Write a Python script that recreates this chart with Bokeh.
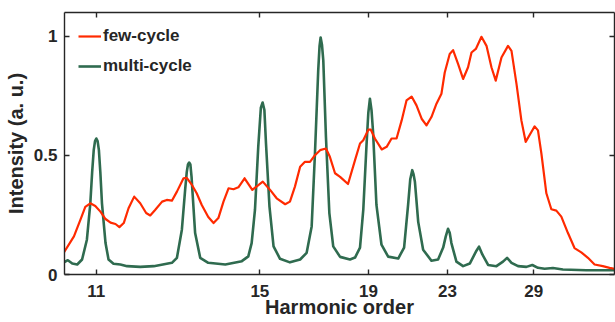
import numpy as np
from bokeh.plotting import figure
from bokeh.models import (Range1d, LinearAxis, FixedTicker, CustomJSTickFormatter,
                          Legend, LegendItem, ColumnDataSource)
from bokeh.embed import file_html
from bokeh.resources import INLINE

# ---- data (harmonic order, normalised intensity) ----
few_q = [10.40, 10.58, 10.70, 10.79, 10.885, 10.98, 11.08, 11.18, 11.28, 11.38,
         11.46, 11.55, 11.65, 11.77, 11.90, 12.03, 12.12, 12.23, 12.39, 12.50,
         12.62, 12.74, 12.90, 12.98, 13.11, 13.23, 13.36, 13.53, 13.67, 13.80,
         13.94, 14.08, 14.22, 14.36, 14.54, 14.77, 15.09, 15.32, 15.53, 15.81,
         15.97, 16.14, 16.32, 16.49, 16.67, 16.85, 17.04, 17.26, 17.41, 17.61,
         17.81, 18.13, 18.42, 18.63, 18.77, 18.99, 19.10, 19.28, 19.59, 19.82,
         20.05, 20.29, 20.54, 20.78, 21.04, 21.29, 21.56, 21.82, 22.09, 22.37,
         22.65, 22.84, 23.13, 23.33, 23.63, 23.94, 24.25, 24.47, 24.75, 25.12,
         25.46, 25.80, 26.10, 26.51, 26.99, 27.25, 27.63, 28.01, 28.35, 28.81,
         29.08, 29.36, 29.65, 30.08, 30.52, 30.97, 31.43, 32.06, 32.70, 33.38,
         34.07, 34.78, 35.69, 36.47, 37.05]
few_i = [0.093, 0.160, 0.230, 0.284, 0.299, 0.288, 0.264, 0.233, 0.218, 0.212,
         0.199, 0.216, 0.278, 0.327, 0.299, 0.258, 0.248, 0.271, 0.306, 0.313,
         0.310, 0.348, 0.404, 0.406, 0.376, 0.341, 0.292, 0.241, 0.216, 0.237,
         0.306, 0.362, 0.358, 0.366, 0.404, 0.355, 0.390, 0.355, 0.320, 0.295,
         0.306, 0.369, 0.452, 0.473, 0.473, 0.501, 0.522, 0.529, 0.494, 0.425,
         0.410, 0.380, 0.480, 0.550, 0.564, 0.608, 0.608, 0.571, 0.525, 0.536,
         0.571, 0.571, 0.647, 0.731, 0.747, 0.710, 0.654, 0.626, 0.661, 0.717,
         0.759, 0.848, 0.926, 0.942, 0.884, 0.821, 0.870, 0.932, 0.947, 0.998,
         0.960, 0.870, 0.814, 0.911, 0.960, 0.939, 0.800, 0.647, 0.557, 0.598,
         0.622, 0.605, 0.508, 0.341, 0.274, 0.268, 0.243, 0.174, 0.111, 0.093,
         0.070, 0.042, 0.035, 0.028, 0.024]

multi_q = [10.40, 10.47, 10.55, 10.64, 10.73, 10.82, 10.885, 10.92, 10.95, 10.975,
           11.00, 11.025, 11.05, 11.078, 11.11, 11.18, 11.24, 11.34, 11.48, 11.62,
           11.90, 12.20, 12.62, 12.74, 12.86, 12.94, 12.98, 13.01, 13.04, 13.07,
           13.10, 13.12, 13.19, 13.32, 13.53, 13.99, 14.46, 14.65, 14.75, 14.85,
           14.95, 15.03, 15.085, 15.14, 15.19, 15.30, 15.43, 15.64, 15.97, 16.32,
           16.55, 16.73, 16.85, 16.97, 17.02, 17.06, 17.11, 17.16, 17.26, 17.39,
           17.54, 17.81, 18.21, 18.42, 18.63, 18.77, 18.91, 18.99, 19.06, 19.13,
           19.20, 19.35, 19.58, 19.89, 20.37, 20.66, 20.86, 20.97, 21.07, 21.14,
           21.21, 21.38, 21.64, 22.09, 22.46, 22.75, 22.90, 23.03, 23.13, 23.23,
           23.53, 23.94, 24.36, 24.79, 24.96, 25.18, 25.57, 26.15, 26.62, 26.92,
           27.25, 27.75, 28.41, 28.89, 29.36, 29.93, 30.66, 31.58, 33.90, 37.05]
multi_i = [0.051, 0.060, 0.046, 0.042, 0.063, 0.146, 0.299, 0.430, 0.522, 0.560,
           0.571, 0.560, 0.522, 0.430, 0.299, 0.132, 0.063, 0.045, 0.042, 0.035,
           0.032, 0.035, 0.049, 0.070, 0.188, 0.355, 0.430, 0.462, 0.470, 0.462,
           0.410, 0.355, 0.174, 0.070, 0.049, 0.042, 0.056, 0.076, 0.132, 0.271,
           0.536, 0.700, 0.722, 0.690, 0.550, 0.285, 0.118, 0.066, 0.051, 0.063,
           0.091, 0.202, 0.508, 0.856, 0.960, 0.995, 0.965, 0.898, 0.577, 0.258,
           0.118, 0.074, 0.063, 0.071, 0.113, 0.271, 0.543, 0.680, 0.738, 0.690,
           0.597, 0.292, 0.125, 0.075, 0.067, 0.113, 0.292, 0.400, 0.438, 0.420,
           0.388, 0.221, 0.104, 0.058, 0.063, 0.113, 0.160, 0.192, 0.175, 0.132,
           0.054, 0.035, 0.046, 0.100, 0.117, 0.084, 0.040, 0.035, 0.054, 0.070,
           0.049, 0.035, 0.032, 0.040, 0.028, 0.024, 0.027, 0.021, 0.018, 0.018]

x_ticks = [11, 15, 19, 23, 29]
y_ticks = [0, 0.5, 1]
x_limits = [10.41, 37.05]
y_limits = [0, 1.1]

# the horizontal axis is spaced as 1/sqrt(harmonic order)
def pos(q):
    return -1.0 / np.sqrt(np.asarray(q, dtype=float))

RED = "#FF2A00"
GREEN = "#2F6B4F"
AX = "#262626"
FONT = "Liberation Sans"

p = figure(width=615, height=322, output_backend="svg", toolbar_location=None,
           x_range=Range1d(*pos(x_limits)), y_range=Range1d(*y_limits),
           min_border_left=64, min_border_right=1, min_border_top=12,
           min_border_bottom=48)
p.background_fill_color = "white"
p.border_fill_color = "white"
p.outline_line_color = None
p.grid.visible = False

src_few = ColumnDataSource(dict(x=pos(few_q), y=few_i))
src_multi = ColumnDataSource(dict(x=pos(multi_q), y=multi_i))
r_multi = p.line("x", "y", source=src_multi, line_color=GREEN, line_width=2.6,
                 line_join="round")
r_few = p.line("x", "y", source=src_few, line_color=RED, line_width=2.2,
               line_join="round")

fmt = CustomJSTickFormatter(code="return Math.round(1/(tick*tick)).toString();")

def style(ax, labels=True):
    ax.axis_line_color = AX
    ax.axis_line_width = 1.4
    ax.major_tick_line_color = AX
    ax.major_tick_line_width = 1.4
    ax.major_tick_in = 5
    ax.major_tick_out = 0
    ax.minor_tick_line_color = None
    ax.major_label_text_font = FONT
    ax.major_label_text_font_style = "bold"
    ax.major_label_text_font_size = "17px"
    ax.major_label_text_color = AX if labels else None
    ax.axis_label_text_font = FONT
    ax.axis_label_text_font_style = "bold"
    ax.axis_label_text_font_size = "20px"
    ax.axis_label_text_color = AX

xb = p.xaxis[0]
xb.ticker = FixedTicker(ticks=list(pos(x_ticks)))
xb.formatter = fmt
xb.axis_label = "Harmonic order"
style(xb)
xb.major_label_standoff = 10
xb.axis_label_standoff = -4

yl = p.yaxis[0]
yl.ticker = FixedTicker(ticks=y_ticks)
yl.axis_label = "Intensity (a. u.)"
style(yl)
yl.major_label_standoff = 7
yl.axis_label_standoff = 4

xt = LinearAxis(ticker=FixedTicker(ticks=list(pos(x_ticks))), formatter=fmt)
style(xt, labels=False)
xt.major_label_text_font_size = "0px"
xt.major_label_standoff = 0
p.add_layout(xt, "above")

yr = LinearAxis(ticker=FixedTicker(ticks=y_ticks))
style(yr, labels=False)
yr.major_label_text_font_size = "0px"
yr.major_label_standoff = 0
p.add_layout(yr, "right")

legend = Legend(items=[LegendItem(label="few-cycle", renderers=[r_few]),
                       LegendItem(label="multi-cycle", renderers=[r_multi])],
                location="top_left", margin=14, padding=0, spacing=10,
                glyph_width=23, glyph_height=20, label_standoff=2,
                label_text_font=FONT, label_text_font_style="bold",
                label_text_font_size="17px", label_text_color=AX,
                border_line_color=None, background_fill_alpha=0)
p.add_layout(legend)

open("out.html", "w").write(file_html(p, INLINE))
